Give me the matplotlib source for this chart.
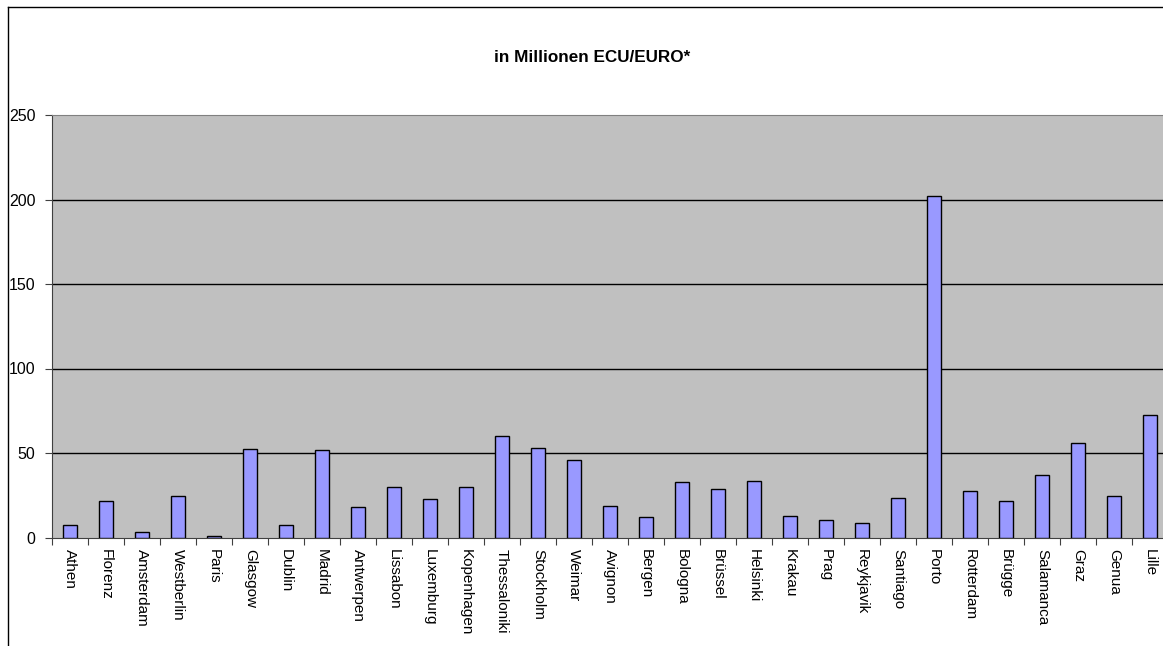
import matplotlib.pyplot as plt
from matplotlib.lines import Line2D
import numpy as np

plt.rcParams['font.family'] = ['Liberation Sans', 'DejaVu Sans']

# Kulturhauptstädte and funding amounts
cities = [
    "Athen", "Florenz", "Amsterdam", "Westberlin", "Paris", "Glasgow", "Dublin",
    "Madrid", "Antwerpen", "Lissabon", "Luxemburg", "Kopenhagen", "Thessaloniki",
    "Stockholm", "Weimar", "Avignon", "Bergen", "Bologna", "Brüssel", "Helsinki",
    "Krakau", "Prag", "Reykjavik", "Santiago", "Porto", "Rotterdam", "Brügge",
    "Salamanca", "Graz", "Genua", "Lille"
]
amounts = [
    7.6, 21.8, 3.1, 24.4, 0.7, 52.4, 7.6,
    51.8, 17.9, 30.1, 22.6, 30.1, 60.2,
    53.0, 45.9, 18.5, 12.3, 32.7, 28.9, 33.4,
    12.7, 10.4, 8.4, 23.2, 201.9, 27.7, 21.8,
    37.2, 55.7, 24.4, 72.3
]
yticks = [0, 50, 100, 150, 200, 250]

fig = plt.figure(figsize=(11.63, 6.46), dpi=100)
W, H = 1163, 646

# plot area runs a little past the right edge of the figure
ax = fig.add_axes([52 / W, (H - 537.5) / H, 1116 / W, 422.5 / H])
ax.set_facecolor('#C0C0C0')

x = np.arange(len(cities))
ax.bar(x, amounts, width=0.41, color='#9999FF', edgecolor='black', linewidth=1.0, zorder=3)

ax.set_xlim(-0.5, len(cities) - 0.5)
ax.set_ylim(0, 250)
ax.set_yticks(yticks)
ax.set_yticklabels([str(v) for v in yticks], fontsize=11.5)
for v in yticks[1:-1]:
    ax.axhline(v, color='black', linewidth=1.0, zorder=1)

# category ticks sit between bars, labels in the middle
ax.set_xticks(np.arange(len(cities) + 1) - 0.5, minor=False)
ax.set_xticklabels([])
ax.set_xticks(x, minor=True)
ax.set_xticklabels(cities, minor=True, rotation=270, fontsize=11, va='top', ha='center')
ax.tick_params(axis='x', which='major', direction='out', length=5, color='#404040')
ax.tick_params(axis='x', which='minor', length=0, pad=8)
ax.tick_params(axis='y', direction='out', length=5, color='#404040', pad=7)

ax.spines['top'].set_color('#808080')
ax.spines['right'].set_visible(False)
ax.spines['left'].set_color('#404040')
ax.spines['bottom'].set_color('#404040')

fig.text(592 / W, 1 - 57 / H, "in Millionen ECU/EURO*", ha='center', va='center',
         fontsize=12.3, fontweight='bold')

# outer chart frame
fx, fy = 8 / W, 1 - 7 / H
fig.add_artist(Line2D([fx, fx], [0, fy], color='black', linewidth=1.0))
fig.add_artist(Line2D([fx, 1], [fy, fy], color='black', linewidth=1.0))

fig.savefig('out.png', dpi=100)
